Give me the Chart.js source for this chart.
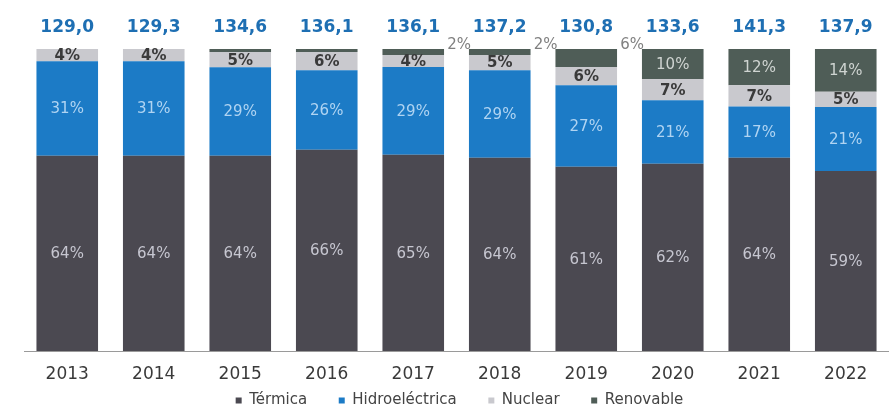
<!DOCTYPE html>
<html><head><meta charset="utf-8">
<script src="https://cdn.jsdelivr.net/npm/chart.js@4/dist/chart.umd.min.js"></script>
<style>html,body{margin:0;padding:0;background:#fff}#w{width:889px;height:406px}</style>
</head><body><div id="w"><canvas id="c"></canvas></div>
<script>
const years = ["2013","2014","2015","2016","2017","2018","2019","2020","2021","2022"];
const totals = ["129,0","129,3","134,6","136,1","136,1","137,2","130,8","133,6","141,3","137,9"];
const termica = [64,64,64,66,65,64,61,62,64,59];
const hidro = [31,31,29,26,29,29,27,21,17,21];
const nuclear = [4,4,5,6,4,5,6,7,7,5];
const renovable = [0,0,1,1,2,2,6,10,12,14];
// which renewable labels are shown, and whether outside the bar
const renovLabelMode = ["none","none","none","none","out","out","out","in","in","in"];

// each bar is shown as a 100% stack
const sums = years.map((_, i) => termica[i] + hidro[i] + nuclear[i] + renovable[i]);
const norm = arr => arr.map((v, i) => v / sums[i] * 100);
const rawSeries = [termica, hidro, nuclear, renovable];

const labelPlugin = {
  id: 'labels',
  afterDatasetsDraw(chart) {
    const ctx = chart.ctx;
    ctx.save();
    ctx.textAlign = 'center';
    ctx.textBaseline = 'middle';
    const styles = [
      {color:'#c6c6d0', font:'15px "DejaVu Sans"'},
      {color:'#b0d4f2', font:'15px "DejaVu Sans"'},
      {color:'#3a3a3a', font:'bold 15px "DejaVu Sans"'},
      {color:'#cfd4d1', font:'15px "DejaVu Sans"'}
    ];
    chart.data.datasets.forEach((ds, di) => {
      const meta = chart.getDatasetMeta(di);
      meta.data.forEach((bar, i) => {
        const v = rawSeries[di][i];
        const st = styles[di];
        ctx.fillStyle = st.color; ctx.font = st.font;
        const mid = (bar.y + bar.base) / 2;
        if (di === 3) {
          const mode = renovLabelMode[i];
          if (mode === 'in') ctx.fillText(v + '%', bar.x, mid + 1);
          else if (mode === 'out') {
            ctx.fillStyle = '#808080';
            ctx.fillText(v + '%', bar.x + bar.width / 2 + 15, bar.y - 4);
          }
        } else {
          ctx.fillText(v + '%', bar.x, mid + 1);
        }
      });
    });
    const meta0 = chart.getDatasetMeta(0);
    ctx.fillStyle = '#1e6fb3';
    ctx.font = 'bold 17px "DejaVu Sans"';
    meta0.data.forEach((bar, i) => {
      ctx.fillText(totals[i], bar.x, 28);
    });
    ctx.restore();
  }
};

new Chart(document.getElementById('c'), {
  type: 'bar',
  data: {
    labels: years,
    datasets: [
      {label:'Térmica', data: norm(termica), backgroundColor:'#4b4951'},
      {label:'Hidroeléctrica', data: norm(hidro), backgroundColor:'#1c7bc6'},
      {label:'Nuclear', data: norm(nuclear), backgroundColor:'#c9c9ce'},
      {label:'Renovable', data: norm(renovable), backgroundColor:'#4f5d57'}
    ]
  },
  options: {
    responsive: true,
    maintainAspectRatio: false,
    animation: false,
    layout: {padding: {top: 49, left: 24, right: -6, bottom: -12}},
    datasets: {bar: {barPercentage: 0.712, categoryPercentage: 1.0}},
    scales: {
      x: {
        stacked: true,
        grid: {display: false, drawTicks: false},
        border: {display: true, color: '#9a9a9a', width: 1},
        ticks: {color: '#3a3a3a', font: {family: 'DejaVu Sans', size: 17}, padding: 13},
        afterFit(scale) { scale.height = 39; }
      },
      y: {stacked: true, display: false, min: 0, max: 100}
    },
    plugins: {
      legend: {
        position: 'bottom',
        labels: {
          usePointStyle: true, pointStyle: 'rect', boxWidth: 6, boxHeight: 6,
          color: '#444', font: {family: 'DejaVu Sans', size: 15}, padding: 3,
          generateLabels(chart) {
            const items = Chart.defaults.plugins.legend.labels.generateLabels(chart);
            items.forEach((it, k) => { if (k < items.length - 1) it.text = it.text + '      '; });
            return items;
          }
        }
      },
      tooltip: {enabled: false}
    }
  },
  plugins: [labelPlugin]
});
</script></body></html>
